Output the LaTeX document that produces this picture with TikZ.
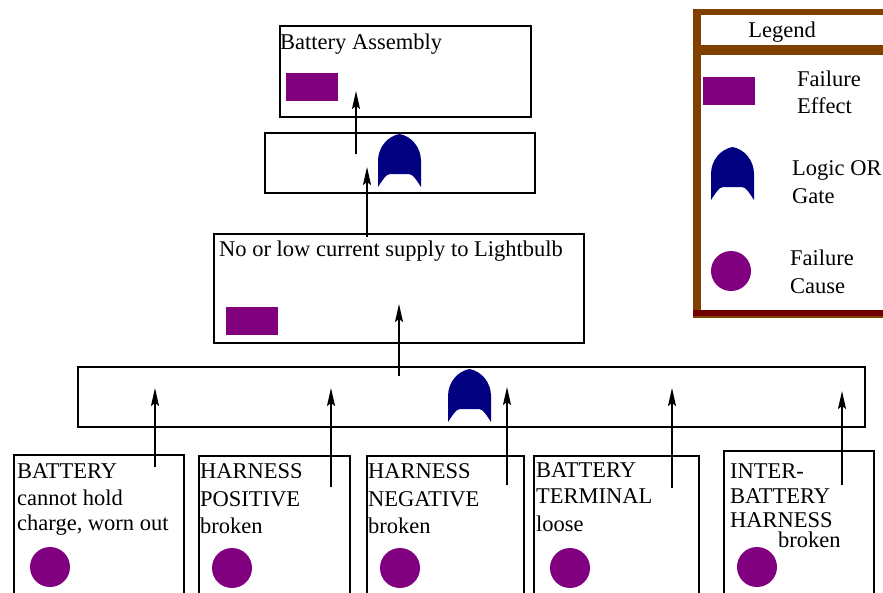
\documentclass[tikz,border=0pt]{standalone}
\usepackage{fontspec}
\setmainfont{Liberation Serif}
\usetikzlibrary{arrows.meta}
\definecolor{fmpurple}{HTML}{800080}
\definecolor{fmnavy}{HTML}{000080}
\definecolor{fmbrown}{HTML}{804000}
\definecolor{fmdark}{HTML}{700000}
\begin{document}
\begin{tikzpicture}[x=1pt,y=-1pt,font=\fontsize{22.5}{26}\selectfont,
  box/.style={draw=black,line width=1.5pt,anchor=north west,inner sep=0pt},
  effect/.style={fill=fmpurple,minimum width=52pt,minimum height=28pt,inner sep=0pt,anchor=north west},
  cause/.style={circle,fill=fmpurple,minimum size=40pt,inner sep=0pt},
  lbl/.style={anchor=base west,inner sep=0pt},
  arr/.style={-{Stealth[length=18pt,width=8pt,inset=3pt]},line width=1.5pt},
  orgate/.pic={\fill[fmnavy] (0,53) -- (0,27) .. controls (0,13) and (10,2) .. (21.5,0)
      .. controls (33,2) and (43,13) .. (43,27) -- (43,53)
      .. controls (39,47) and (35,40) .. (31,40) -- (12,40)
      .. controls (8,40) and (4,47) .. (0,53) -- cycle;}
]
\useasboundingbox (0,0) rectangle (883,592);
\clip (0,0) rectangle (883,592);
\fill[white] (0,0) rectangle (883,592);

% legend
\fill[fmbrown] (693,9) rectangle (900,318);
\fill[fmdark] (693,310) rectangle (900,316);
\fill[white] (701,15) rectangle (900,45);
\fill[white] (701,55) rectangle (900,310);
\node[anchor=base,inner sep=0pt] (lgt) at (782,37) {Legend};
\node[effect] (lge) at (703,77) {};
\node[lbl] (lget1) at (797,86) {Failure};
\node[lbl] (lget2) at (797,113) {Effect};
\pic (lgg) at (711,147) {orgate};
\node[lbl] (lggt1) at (792,175) {Logic OR};
\node[lbl] (lggt2) at (792,203) {Gate};
\node[cause] (lgc) at (731,271) {};
\node[lbl] (lgct1) at (790,265) {Failure};
\node[lbl] (lgct2) at (790,293) {Cause};

% top effect
\node[box,minimum width=251pt,minimum height=91pt] (ba) at (279,25) {};
\node[lbl] (bat) at (280,49) {Battery Assembly};
\node[effect] (bae) at (286,73) {};

% gate 1
\node[box,minimum width=270pt,minimum height=60pt] (g1box) at (264,132) {};
\pic (g1) at (378,134) {orgate};

% middle effect
\node[box,minimum width=370pt,minimum height=109pt] (nl) at (213,233) {};
\node[lbl] (nlt) at (219,256) {No or low current supply to Lightbulb};
\node[effect] (nle) at (226,307) {};

% gate 2
\node[box,minimum width=787pt,minimum height=60pt] (g2box) at (77,366) {};
\pic (g2) at (448,369) {orgate};

% causes
\node[box,minimum width=170pt,minimum height=150pt] (b1) at (13,454) {};
\node[lbl] (b1t1) at (17,478) {BATTERY};
\node[lbl] (b1t2) at (17,505) {cannot hold};
\node[lbl] (b1t3) at (17,530) {charge, worn out};
\node[cause] (b1c) at (50,567) {};

\node[box,minimum width=151pt,minimum height=150pt] (b2) at (198,455) {};
\node[lbl] (b2t1) at (200,478) {HARNESS};
\node[lbl] (b2t2) at (200,506) {POSITIVE};
\node[lbl] (b2t3) at (200,533) {broken};
\node[cause] (b2c) at (232,568) {};

\node[box,minimum width=157pt,minimum height=150pt] (b3) at (366,455) {};
\node[lbl] (b3t1) at (368,478) {HARNESS};
\node[lbl] (b3t2) at (368,506) {NEGATIVE};
\node[lbl] (b3t3) at (368,533) {broken};
\node[cause] (b3c) at (400,568) {};

\node[box,minimum width=165pt,minimum height=150pt] (b4) at (533,455) {};
\node[lbl] (b4t1) at (536,477) {BATTERY};
\node[lbl] (b4t2) at (536,503) {TERMINAL};
\node[lbl] (b4t3) at (536,531) {loose};
\node[cause] (b4c) at (570,568) {};

\node[box,minimum width=150pt,minimum height=160pt] (b5) at (723,450) {};
\node[lbl] (b5t1) at (730,478) {INTER-};
\node[lbl] (b5t2) at (730,503) {BATTERY};
\node[lbl] (b5t3) at (730,527) {HARNESS};
\node[lbl] (b5t4) at (778,547) {broken};
\node[cause] (b5c) at (757,567) {};

% arrow end points
\coordinate (a1s) at (356,154); \coordinate (a1e) at (356,91);
\coordinate (a2s) at (367,237); \coordinate (a2e) at (367,167);
\coordinate (a3s) at (399,376); \coordinate (a3e) at (399,304);
\coordinate (c1s) at (155,467); \coordinate (c1e) at (155,388);
\coordinate (c2s) at (331,487); \coordinate (c2e) at (331,388);
\coordinate (c3s) at (507,485); \coordinate (c3e) at (507,387);
\coordinate (c4s) at (672,488); \coordinate (c4e) at (672,388);
\coordinate (c5s) at (842,485); \coordinate (c5e) at (842,391);

\draw[arr] (a1s) -- (a1e);
\draw[arr] (a2s) -- (a2e);
\draw[arr] (a3s) -- (a3e);
\draw[arr] (c1s) -- (c1e);
\draw[arr] (c2s) -- (c2e);
\draw[arr] (c3s) -- (c3e);
\draw[arr] (c4s) -- (c4e);
\draw[arr] (c5s) -- (c5e);
\end{tikzpicture}
\end{document}
